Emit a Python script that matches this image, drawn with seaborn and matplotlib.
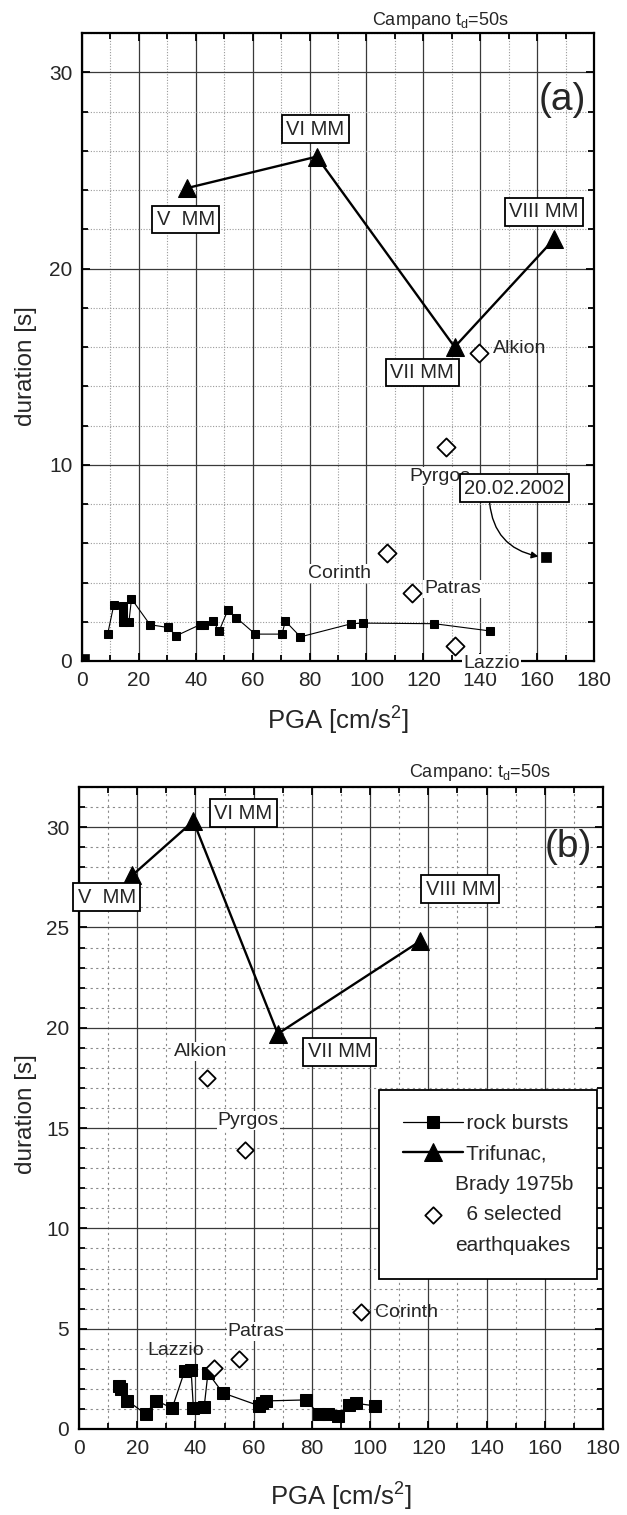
import matplotlib
matplotlib.use("Agg")
import matplotlib.pyplot as plt
import seaborn as sns
import numpy as np
import pandas as pd
from matplotlib.ticker import MultipleLocator
from matplotlib.lines import Line2D

sns.set_style("white")
plt.rcParams['font.family'] = ['Liberation Sans', 'DejaVu Sans']
plt.rcParams['mathtext.default'] = 'regular'

# ---------------- panel (a) data ----------------
a_rock_pga = [1.2, 9.0, 11.2, 14.3, 14.3, 14.5, 16.5, 17.4, 23.9, 30.1, 33.2, 41.5, 43.0, 46.1,
              48.2, 51.3, 54.3, 60.9, 70.3, 71.5, 76.8, 94.7, 98.8, 123.9, 143.5]
a_rock_dur = [0.15, 1.36, 2.87, 2.82, 2.4, 2.0, 2.0, 3.17, 1.85, 1.71, 1.29, 1.85, 1.85, 2.03,
              1.53, 2.6, 2.2, 1.37, 1.37, 2.03, 1.23, 1.9, 1.93, 1.9, 1.53]
a_event_pga = [163.0]
a_event_dur = [5.3]
a_event_label = "20.02.2002"
a_tri_pga = [37.0, 82.5, 131.0, 166.0]
a_tri_dur = [24.1, 25.7, 16.0, 21.5]
a_tri_labels = ["V  MM", "VI MM", "VII MM", "VIII MM"]
a_eq_names = ["Alkion", "Pyrgos", "Corinth", "Patras", "Lazzio"]
a_eq_pga = [139.5, 128.0, 107.4, 116.1, 131.0]
a_eq_dur = [15.7, 10.9, 5.5, 3.45, 0.74]

# ---------------- panel (b) data ----------------
b_rock_pga = [13.8, 14.4, 16.5, 22.9, 26.6, 32.0, 36.3, 38.5, 39.3, 43.0, 44.3, 49.4, 62.0, 62.9,
              64.3, 78.0, 82.3, 85.4, 89.0, 92.9, 95.1, 101.8]
b_rock_dur = [2.12, 2.0, 1.42, 0.75, 1.42, 1.03, 2.9, 2.95, 1.03, 1.1, 2.8, 1.8, 1.15, 1.3,
              1.4, 1.45, 0.75, 0.75, 0.65, 1.22, 1.28, 1.15]
b_tri_pga = [18.3, 39.3, 68.3, 117.0]
b_tri_dur = [27.6, 30.3, 19.7, 24.3]
b_tri_labels = ["V  MM", "VI MM", "VII MM", "VIII MM"]
b_eq_names = ["Alkion", "Pyrgos", "Corinth", "Patras", "Lazzio"]
b_eq_pga = [44.0, 57.0, 96.8, 54.8, 46.3]
b_eq_dur = [17.5, 13.9, 5.83, 3.51, 3.02]

legend_labels = ["  rock bursts", "  Trifunac,", "Brady 1975b", "  6 selected", "earthquakes"]

# ---------------- figure ----------------
W, H = 627, 1515
fig = plt.figure(figsize=(W / 100, H / 100), dpi=100)
ax1 = fig.add_axes([82 / W, 1 - 661 / H, 512 / W, 628 / H])
ax2 = fig.add_axes([79 / W, 1 - 1429 / H, 524 / W, 642 / H])


def style(ax, ymaj, ymin, minor_ls, minor_col):
    ax.set_xlim(0, 180)
    ax.set_ylim(0, 32)
    ax.xaxis.set_major_locator(MultipleLocator(20))
    ax.xaxis.set_minor_locator(MultipleLocator(10))
    ax.yaxis.set_major_locator(MultipleLocator(ymaj))
    ax.yaxis.set_minor_locator(MultipleLocator(ymin))
    ax.grid(which='major', color='#3a3a3a', lw=0.9, ls='-')
    ax.grid(which='minor', color=minor_col, lw=0.8, ls=minor_ls)
    ax.set_axisbelow(True)
    ax.tick_params(which='both', direction='in', top=True, right=True, bottom=True, left=True,
                   width=1.3, color='black')
    ax.tick_params(which='major', length=6, labelsize=15, pad=7)
    ax.tick_params(which='minor', length=4)
    for s in ax.spines.values():
        s.set_linewidth(1.6)
        s.set_color('black')
    ax.set_xlabel("PGA [cm/s$^2$]", fontsize=18.5)
    ax.set_ylabel("duration [s]", fontsize=17.5)


style(ax1, 10, 2, (0, (1, 1.5)), '#9a9a9a')
style(ax2, 5, 1, (0, (2, 3)), '#8a8a8a')
ax1.xaxis.set_label_coords(0.5, -0.07)
ax2.xaxis.set_label_coords(0.5, -0.08)
ax1.yaxis.set_label_coords(-0.088, 0.47)
ax2.yaxis.set_label_coords(-0.08, 0.49)

box_kw = dict(boxstyle='square,pad=0.22', fc='white', ec='black', lw=1.3)
white_kw = dict(boxstyle='square,pad=0.05', fc='white', ec='none')

# ---------- panel (a) ----------
sns.lineplot(x=a_rock_pga[1:], y=a_rock_dur[1:], ax=ax1, color='black', lw=0.8, marker='s',
             markersize=6, mec='black', sort=False, estimator=None, zorder=4)
sns.scatterplot(x=a_rock_pga[:1], y=a_rock_dur[:1], ax=ax1, marker='s', s=36, color='black',
                edgecolor='black', zorder=4)
sns.scatterplot(x=a_event_pga, y=a_event_dur, ax=ax1, marker='s', s=42, color='black',
                edgecolor='black', zorder=4)
sns.lineplot(x=a_tri_pga, y=a_tri_dur, ax=ax1, color='black', lw=1.7, marker='^',
             markersize=13, mec='black', sort=False, estimator=None, zorder=5)
sns.scatterplot(x=a_eq_pga, y=a_eq_dur, ax=ax1, marker='D', s=85, facecolor='white',
                edgecolor='black', linewidth=1.3, zorder=5)

a_tri_lab_pos = [(36.5, 22.5), (82.0, 27.1), (119.6, 14.7), (162.3, 22.9)]
for lab, (x, y) in zip(a_tri_labels, a_tri_lab_pos):
    ax1.text(x, y, lab, ha='center', va='center', fontsize=14.5, bbox=box_kw, zorder=7)

ax1.text(169, 28.6, "(a)", ha='center', va='center', fontsize=28, zorder=7)
ax1.text(144.4, 15.9, a_eq_names[0], ha='left', va='center', fontsize=14, zorder=7)
ax1.text(126.0, 9.4, a_eq_names[1], ha='center', va='center', fontsize=14, bbox=white_kw, zorder=7)
ax1.text(90.5, 4.45, a_eq_names[2], ha='center', va='center', fontsize=14, bbox=white_kw, zorder=7)
ax1.text(120.2, 3.67, a_eq_names[3], ha='left', va='center', fontsize=14, bbox=white_kw, zorder=7)
ax1.text(144.0, -0.15, a_eq_names[4], ha='center', va='center', fontsize=14, bbox=white_kw,
         zorder=7, clip_on=False)
ax1.annotate(a_event_label, xy=(a_event_pga[0] - 1.6, a_event_dur[0]), xytext=(152, 8.8),
             ha='center', va='center', fontsize=14.5, bbox=box_kw, zorder=7,
             arrowprops=dict(arrowstyle='-|>', color='black', lw=1.0, mutation_scale=10,
                             connectionstyle='arc3,rad=0.4', shrinkA=0, shrinkB=2,
                             relpos=(0.25, 0.0)))
ax1.text(0.70, 1.012, "Campano t$_d$=50s", transform=ax1.transAxes, ha='center', va='baseline',
         fontsize=13, zorder=10, clip_on=False)

# ---------- panel (b) ----------
l_rock = sns.lineplot(x=b_rock_pga, y=b_rock_dur, ax=ax2, color='black', lw=0.9, marker='s',
                      markersize=8, mec='black', sort=False, estimator=None, zorder=4).lines[-1]
l_tri = sns.lineplot(x=b_tri_pga, y=b_tri_dur, ax=ax2, color='black', lw=1.7, marker='^',
                     markersize=13, mec='black', sort=False, estimator=None, zorder=5).lines[-1]
sns.scatterplot(x=b_eq_pga, y=b_eq_dur, ax=ax2, marker='D', s=70, facecolor='white',
                edgecolor='black', linewidth=1.3, zorder=5)
c_eq = ax2.collections[-1]

b_tri_lab_pos = [(9.5, 26.5), (56.5, 30.7), (89.5, 18.8), (131.0, 26.9)]
for lab, (x, y) in zip(b_tri_labels, b_tri_lab_pos):
    ax2.text(x, y, lab, ha='center', va='center', fontsize=14.5, bbox=box_kw, zorder=7)

ax2.text(168, 29.0, "(b)", ha='center', va='center', fontsize=28, zorder=7)
ax2.text(41.7, 18.8, b_eq_names[0], ha='center', va='center', fontsize=14, bbox=white_kw, zorder=7)
ax2.text(58.2, 15.4, b_eq_names[1], ha='center', va='center', fontsize=14, bbox=white_kw, zorder=7)
ax2.text(101.7, 5.83, b_eq_names[2], ha='left', va='center', fontsize=14, zorder=7)
ax2.text(60.8, 4.85, b_eq_names[3], ha='center', va='center', fontsize=14, bbox=white_kw, zorder=7)
ax2.text(33.3, 3.9, b_eq_names[4], ha='center', va='center', fontsize=14, zorder=7)
ax2.text(0.765, 1.0156, "Campano: t$_d$=50s", transform=ax2.transAxes, ha='center',
         va='baseline', fontsize=13, zorder=10, clip_on=False)

blank = Line2D([], [], ls='none')
leg = ax2.legend([l_rock, l_tri, blank, c_eq, blank], legend_labels, loc='upper left',
                 bbox_to_anchor=(0.5725, 0.528), borderaxespad=0, fontsize=15,
                 frameon=True, fancybox=False, edgecolor='black', framealpha=1,
                 handlelength=2.9, handletextpad=-0.4, borderpad=1.15, labelspacing=0.55)
leg.get_frame().set_linewidth(1.3)
leg.set_zorder(8)

fig.savefig("out.png", dpi=100)
